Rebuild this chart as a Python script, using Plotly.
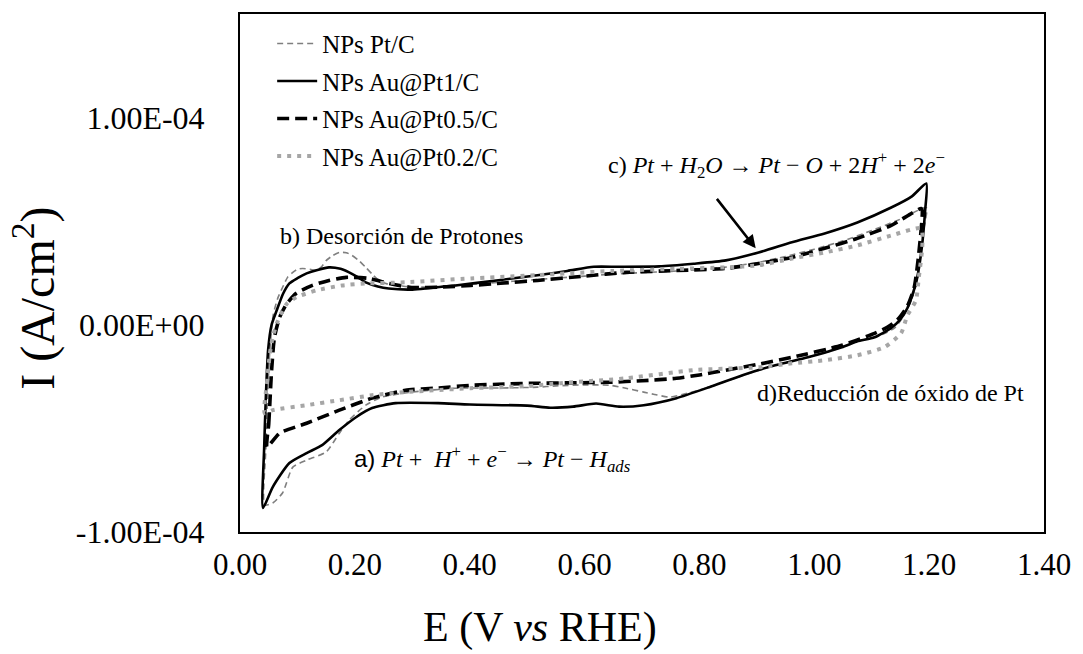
import numpy as np
import plotly.graph_objects as go

# ---- data (E in V vs RHE, I in units of 1e-5 A/cm^2) ----
E_PT = [0.043, 0.045, 0.048, 0.052, 0.058, 0.066, 0.074, 0.083, 0.092, 0.100, 0.109, 0.122, 0.133,
        0.142, 0.150, 0.162, 0.173, 0.185, 0.195, 0.207, 0.219, 0.230, 0.242, 0.259, 0.276, 0.299,
        0.35, 0.40, 0.45, 0.50, 0.55, 0.60, 0.65, 0.70, 0.75, 0.80, 0.85, 0.90, 0.95, 1.00, 1.05,
        1.10, 1.15, 1.195,
        1.19, 1.185, 1.178, 1.168, 1.155, 1.14, 1.12, 1.10, 1.07, 1.03, 0.98, 0.93, 0.88, 0.83,
        0.80, 0.772, 0.748, 0.72, 0.703, 0.670, 0.644, 0.60, 0.55, 0.518, 0.45, 0.375, 0.299,
        0.247, 0.219, 0.190, 0.173, 0.150, 0.116, 0.092, 0.074, 0.057, 0.043]
I_PT = [-8.7, -6.0, -3.5, -1.2, 0.5, 1.3, 1.8, 2.3, 2.53, 2.68, 2.72, 2.68, 2.63,
        2.80, 3.10, 3.35, 3.49, 3.48, 3.35, 3.10, 2.77, 2.45, 2.14, 1.95, 1.90, 1.82,
        1.85, 1.95, 2.05, 2.15, 2.25, 2.35, 2.45, 2.52, 2.58, 2.66, 2.80, 3.00, 3.30, 3.65, 4.05,
        4.55, 5.10, 5.65,
        4.5, 3.3, 2.0, 1.1, 0.4, -0.15, -0.45, -0.62, -0.85, -1.25, -1.62, -1.97, -2.40, -2.88,
        -3.15, -3.35, -3.49, -3.35, -3.25, -3.05, -2.92, -2.90, -2.95, -3.01, -3.05, -3.06, -3.25,
        -3.49, -3.88, -4.6, -5.23, -6.14, -6.53, -6.87, -8.12, -8.6, -8.7]

E_PT1 = [0.040, 0.042, 0.045, 0.049, 0.055, 0.064, 0.075, 0.086, 0.100, 0.116, 0.135, 0.155, 0.175,
         0.190, 0.205, 0.219, 0.240, 0.259, 0.300, 0.375, 0.450, 0.518, 0.570, 0.616, 0.660, 0.730,
         0.790, 0.846, 0.903, 0.961, 1.018, 1.075, 1.134, 1.170, 1.195,
         1.193, 1.186, 1.177, 1.162, 1.148, 1.134, 1.105, 1.075, 1.048, 0.989, 0.932, 0.875, 0.817,
         0.760, 0.703, 0.660, 0.620, 0.580, 0.540, 0.500, 0.400, 0.345, 0.271, 0.230, 0.202, 0.173,
         0.143, 0.116, 0.086, 0.057, 0.040]
I_PT1 = [-8.84, -6.0, -3.5, -1.2, 0.0, 0.7, 1.5, 2.0, 2.25, 2.48, 2.65, 2.77, 2.70,
         2.53, 2.30, 2.05, 1.85, 1.75, 1.70, 1.90, 2.15, 2.39, 2.60, 2.80, 2.80, 2.82,
         2.95, 3.11, 3.49, 3.98, 4.41, 4.94, 5.66, 6.20, 6.82,
         5.5, 3.45, 2.0, 0.8, 0.2, -0.15, -0.60, -0.80, -1.08, -1.57, -1.95, -2.43, -3.01,
         -3.54, -3.88, -3.95, -3.80, -3.95, -4.00, -3.90, -3.85, -3.78, -3.78, -4.02, -4.46, -5.08,
         -5.81, -6.19, -6.67, -7.83, -8.84]

E_PT05 = [0.047, 0.050, 0.052, 0.055, 0.060, 0.069, 0.081, 0.098, 0.126, 0.155, 0.185, 0.224, 0.259,
          0.299, 0.350, 0.402, 0.460, 0.518, 0.600, 0.673, 0.760, 0.846, 0.903, 0.961, 1.018, 1.075,
          1.134, 1.186,
          1.188, 1.182, 1.174, 1.162, 1.145, 1.127, 1.105, 1.048, 0.961, 0.900, 0.846, 0.800, 0.760,
          0.700, 0.644, 0.580, 0.518, 0.460, 0.402, 0.345, 0.288, 0.230, 0.173, 0.116, 0.069, 0.047]
I_PT05 = [-5.9, -4.8, -3.78, -2.2, -0.6, 0.36, 1.0, 1.52, 1.90, 2.14, 2.29, 2.24, 2.00,
          1.80, 1.82, 1.90, 2.02, 2.14, 2.35, 2.53, 2.62, 2.72, 2.96, 3.25, 3.69, 4.17,
          4.80, 5.61,
          5.52, 3.45, 1.80, 0.9, 0.25, -0.12, -0.41, -0.99, -1.57, -1.92, -2.19, -2.42, -2.58,
          -2.70, -2.77, -2.80, -2.82, -2.86, -2.92, -3.05, -3.16, -3.54, -4.12, -4.75, -5.23, -5.9]

E_PT02 = [0.043, 0.047, 0.052, 0.057, 0.066, 0.081, 0.098, 0.133, 0.178, 0.224, 0.288, 0.402, 0.518,
          0.650, 0.760, 0.846, 0.903, 0.961, 1.018, 1.075, 1.134, 1.186,
          1.188, 1.182, 1.177, 1.162, 1.151, 1.122, 1.075, 1.018, 0.961, 0.903, 0.789, 0.673, 0.558,
          0.500, 0.402, 0.288, 0.230, 0.173, 0.116, 0.057, 0.043]
I_PT02 = [-4.27, -2.8, -1.4, -0.6, 0.2, 1.0, 1.33, 1.66, 1.90, 2.00, 2.05, 2.24, 2.40,
          2.60, 2.70, 2.77, 2.87, 3.20, 3.49, 3.83, 4.31, 4.65,
          3.74, 2.29, 1.18, 0.45, -0.41, -1.08, -1.47, -1.71, -1.86, -2.05, -2.19, -2.58, -2.82,
          -2.96, -3.06, -3.25, -3.40, -3.64, -3.88, -4.12, -4.27]

SCALE = 1e-5
NAMES = ["NPs Pt/C", "NPs Au@Pt1/C", "NPs Au@Pt0.5/C", "NPs Au@Pt0.2/C"]
X_TICKS = [0.0, 0.2, 0.4, 0.6, 0.8, 1.0, 1.2, 1.4]
X_TICKTEXT = ["0.00", "0.20", "0.40", "0.60", "0.80", "1.00", "1.20", "1.40"]
Y_TICKS = [-1e-4, 0.0, 1e-4]
Y_TICKTEXT = ["-1.00E-04", "0.00E+00", "1.00E-04"]

SERIF = "Liberation Serif"

series = [
    (E_PT, I_PT, dict(color="#7f7f7f", width=1.6, dash="6px,4px")),
    (E_PT1, I_PT1, dict(color="black", width=2.6, dash="solid")),
    (E_PT05, I_PT05, dict(color="black", width=3.6, dash="12px,6px")),
    (E_PT02, I_PT02, dict(color="#a6a6a6", width=4.0, dash="4px,6px")),
]

fig = go.Figure()
for name, (ex, iy, ln) in zip(NAMES, series):
    fig.add_trace(go.Scatter(
        x=ex, y=(np.array(iy) * SCALE), mode="lines", name=name,
        line=dict(shape="spline", smoothing=0.6, **ln),
        legendgroup=name,
    ))

fig.update_layout(
    width=1083, height=654,
    margin=dict(l=240, r=32, t=12, b=122),
    paper_bgcolor="white", plot_bgcolor="white",
    font=dict(family=SERIF, color="black"),
    showlegend=True,
    legend=dict(x=0.04, y=0.987, xanchor="left", yanchor="top",
                bgcolor="rgba(0,0,0,0)", font=dict(size=25, family=SERIF),
                tracegroupgap=2, itemwidth=40),
    xaxis=dict(range=[0, 1.4], tickvals=X_TICKS, ticktext=X_TICKTEXT,
               showgrid=False, zeroline=False, showline=True, linecolor="black",
               linewidth=2, mirror=True, ticks="", tickfont=dict(size=31, family=SERIF),
               ticklabelstandoff=4),
    yaxis=dict(range=[-1e-4, 1.5e-4], tickvals=Y_TICKS, ticktext=Y_TICKTEXT,
               showgrid=False, zeroline=False, showline=True, linecolor="black",
               linewidth=2, mirror=True, ticks="", tickfont=dict(size=32, family=SERIF),
               ticklabelstandoff=27),
)

ann_font = dict(size=24, family=SERIF, color="black")
fig.add_annotation(x=0.281, y=0.4265e-4, text="b) Desorción de Protones",
                   showarrow=False, font=ann_font, xanchor="center", yanchor="middle")
fig.add_annotation(x=0.934, y=0.7735e-4,
                   text="c) <i>Pt</i> + <i>H</i><sub>2</sub><i>O</i> → <i>Pt</i> − <i>O</i> + 2<i>H</i><sup>+</sup> + 2<i>e</i><sup>−</sup>",
                   showarrow=False, font=ann_font, xanchor="center", yanchor="middle")
fig.add_annotation(x=1.132, y=-0.330e-4, text="d)Reducción de óxido de Pt",
                   showarrow=False, font=ann_font, xanchor="center", yanchor="middle")
fig.add_annotation(x=0.440, y=-0.648e-4,
                   text="<span style=\"font-family:Liberation Sans\">a)</span> <i>Pt</i> +  <i>H</i><sup>+</sup> + <i>e</i><sup>−</sup> → <i>Pt</i> − <i>H</i><sub><i>ads</i></sub>",
                   showarrow=False, font=ann_font, xanchor="center", yanchor="middle")
# arrow
fig.add_annotation(x=0.898, y=0.369e-4, ax=-40, ay=-51, text="", showarrow=True,
                   arrowhead=2, arrowsize=1, arrowwidth=2.6, arrowcolor="black", standoff=0)

# axis titles
fig.add_annotation(xref="paper", yref="paper", x=-0.255, y=0.452,
                   text="I (A/cm<sup>2</sup>)", textangle=-90, showarrow=False,
                   font=dict(size=48, family=SERIF), xanchor="center", yanchor="middle")
fig.add_annotation(xref="paper", yref="paper", x=0.3736, y=-0.185,
                   text="E (V <i>vs</i> RHE)", showarrow=False,
                   font=dict(size=42, family=SERIF), xanchor="center", yanchor="middle")

fig.write_html("out.html")
